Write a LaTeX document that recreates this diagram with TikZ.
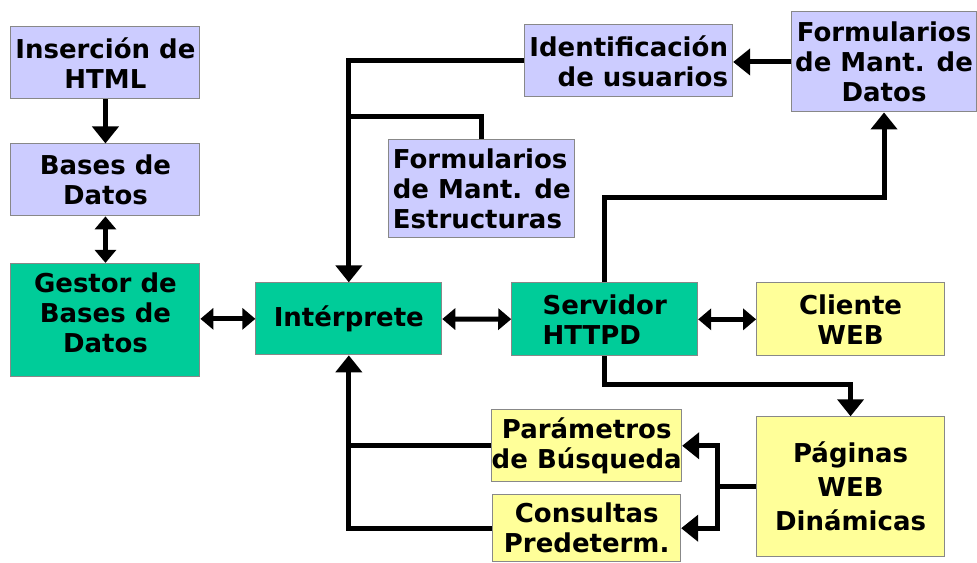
\documentclass[tikz,border=0pt]{standalone}
\usepackage{fontspec}
\setmainfont{DejaVu Sans}
\usetikzlibrary{arrows.meta}
\definecolor{lav}{RGB}{204,204,255}
\definecolor{grn}{RGB}{0,204,153}
\definecolor{ylw}{RGB}{255,255,153}
\definecolor{brd}{RGB}{136,136,136}
\begin{document}
\begin{tikzpicture}[x=1pt,y=-1pt,
  box/.style={draw=brd, line width=1pt, inner sep=0pt, font=\bfseries\fontsize{26}{30}\selectfont, align=center},
  lbox/.style={box, fill=lav},
  gbox/.style={box, fill=grn},
  ybox/.style={box, fill=ylw},
  conn/.style={line width=5pt, line join=miter},
  tip/.style={conn, -{Triangle[length=17pt,width=26pt]}},
  dtip/.style={conn, {Triangle[length=13pt,width=21pt]}-{Triangle[length=13pt,width=21pt]}}
]
\fill[white] (0,0) rectangle (977,562);
% boxes
\node[lbox, minimum width=189pt, minimum height=72pt] (ins) at (105.5,63) {Inserción de\\HTML};
\node[lbox, minimum width=189pt, minimum height=72pt] (bas) at (105.5,180) {Bases de\\Datos};
\node[gbox, minimum width=189pt, minimum height=113pt, text depth=15pt] (ges) at (105.5,320) {Gestor de\\Bases de\\Datos};
\node[gbox, minimum width=186pt, minimum height=72pt] (int) at (349,319) {Intérprete};
\node[gbox, minimum width=186pt, minimum height=73pt, align=left] (ser) at (605,319.5) {Servidor\\HTTPD};
\node[ybox, minimum width=188pt, minimum height=73pt] (cli) at (851,319.5) {Cliente\\WEB};
\node[ybox, minimum width=188pt, minimum height=140pt, font=\bfseries\fontsize{26}{34}\selectfont] (pag) at (851,487) {Páginas\\WEB\\Dinámicas};
\node[ybox, minimum width=188pt, minimum height=72pt] (par) at (587,446) {Parámetros\\de Búsqueda};
\node[ybox, minimum width=188pt, minimum height=67pt] (con) at (587,528.5) {Consultas\\Predeterm.};
\node[lbox, minimum width=186pt, minimum height=98pt, align=left] (fest) at (482,189) {Formularios\\de Mant. de\\Estructuras};
\node[lbox, minimum width=208pt, minimum height=72pt, align=right] (iden) at (629,61) {Identificación\\de usuarios};
\node[lbox, minimum width=185pt, minimum height=100pt] (fdat) at (884.5,62) {Formularios\\de Mant. de\\Datos};
% junction coordinates
\coordinate (j1) at (349,117);
\coordinate (j2) at (605,198);
\coordinate (j3) at (605,385);
\coordinate (m) at (718,487);
% connectors
\draw[tip] (ins) -- (bas);
\draw[dtip] (bas) -- (ges);
\draw[dtip] (ges.east |- int.west) -- (int.west);
\draw[dtip] (int) -- (ser);
\draw[dtip] (ser) -- (cli);
\draw[tip] (fdat.west) -- (iden.east |- fdat.west);
\draw[tip] (iden.west) -| (int.north);
\draw[conn] (fest.north) |- (j1);
\draw[tip] (ser.north) -- (j2) -| (fdat.south);
\draw[tip] (ser.south) -- (j3) -| (pag.north);
\draw[conn] (pag.west |- m) -- (m);
\draw[tip] (m) |- (par.east);
\draw[tip] (m) |- (con.east);
\draw[tip] (con.west) -| (int.south);
\draw[conn] (par.west) -- (par.west -| int.south);
\end{tikzpicture}
\end{document}
